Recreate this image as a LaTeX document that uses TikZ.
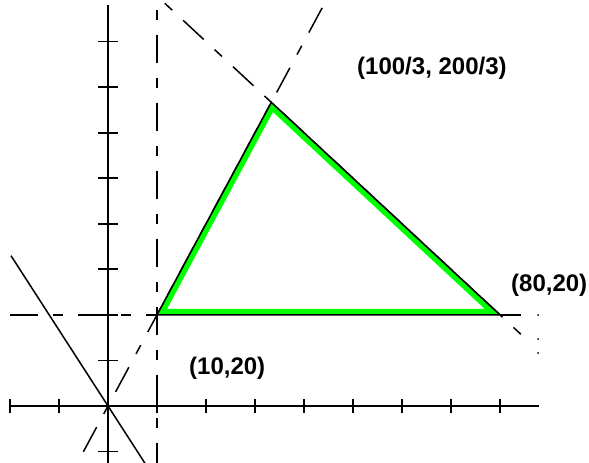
\documentclass[tikz,border=0pt]{standalone}
\usepackage{fontspec}
\setmainfont{Liberation Sans}
\definecolor{greenedge}{RGB}{0,255,0}
\begin{document}
\begin{tikzpicture}[x=4.9pt,y=4.555pt,
  axisline/.style={line width=1.8pt},
  guide/.style={line width=1.5pt, dash pattern=on 10pt off 15pt on 28pt off 15pt},
  guidelong/.style={line width=1.5pt, dash pattern=on 28pt off 15pt on 10pt off 15pt},
  thinline/.style={line width=1.5pt},
  lbl/.style={font=\bfseries\fontsize{24}{28}\selectfont, inner sep=0pt, anchor=base west},
  dotmark/.style={fill=black, inner sep=0pt, minimum size=2pt, circle}
]
\useasboundingbox (-22.041,-12.514) rectangle (98.163,89.133);
% named points
\coordinate (O) at (0,0);
\coordinate (A) at (10,20);
\coordinate (B) at (100/3,200/3);
\coordinate (C) at (80,20);
\coordinate (xl) at (-20,0);
\coordinate (xr) at (87.96,0);
\coordinate (yt) at (0,88.03);
\coordinate (yb) at (0,-12.8);
\coordinate (vt) at (10,86.94);
\coordinate (vb) at (10,-12.8);
\coordinate (hl) at (-20,20);
\coordinate (hr) at (84.3,20);
\coordinate (p2t) at (43.7,87.4);
\coordinate (p2b) at (-5.9,-11.8);
\coordinate (p3t) at (11.6,88.4);
\coordinate (p3b) at (85.5,14.5);
\coordinate (p4t) at (-19.8,33);
\coordinate (p4b) at (7.7,-12.83);
% axes
\draw[axisline] (xl) -- (xr);
\draw[axisline] (yb) -- (yt);
\foreach \t in {-20,-10,10,20,30,40,50,60,70,80}
  \draw[axisline] (\t,-1.54) -- (\t,1.54);
\foreach \t in {-10,10,20,30,40,50,60,70,80}
  \draw[axisline] (-2.04,\t) -- (2.04,\t);
% constraint lines
\draw[guide] (vt) -- (vb);
\draw[guidelong] (hl) -- (A);
\draw[thinline] (C) -- (hr);
\draw[guidelong] (p2t) -- (p2b);
\draw[guide] (p3t) -- (p3b);
\draw[thinline] (p4t) -- (p4b);
% feasible region
\begin{scope}
  \clip (A) -- (B) -- (C) -- cycle;
  \draw[greenedge, line width=12pt, line join=miter] (A) -- (B) -- (C) -- cycle;
\end{scope}
\draw[line width=1.6pt, line join=miter] (A) -- (B) -- (C) -- cycle;
% stray dots at right
\node[dotmark] (d1) at (87.76,19.98) {};
\node[dotmark] (d2) at (87.76,14.71) {};
\node[dotmark] (d3) at (87.76,11.64) {};
% labels
\node[lbl] (lB) at (50.82,72.67) {(100/3, 200/3)};
\node[lbl] (lA) at (16.53,6.81) {(10,20)};
\node[lbl] (lC) at (82.24,25.03) {(80,20)};
\end{tikzpicture}
\end{document}
